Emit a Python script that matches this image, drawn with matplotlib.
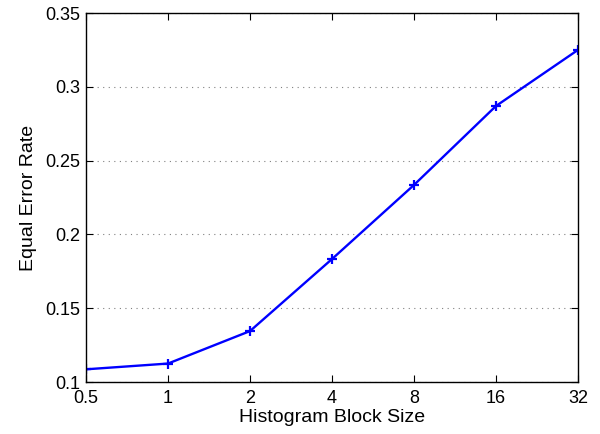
import matplotlib
matplotlib.use("Agg")
import matplotlib.pyplot as plt
from matplotlib.ticker import FixedLocator, FixedFormatter, NullLocator

plt.rcParams['font.family'] = ['Liberation Sans', 'DejaVu Sans']

block_size = [0.5, 1, 2, 4, 8, 16, 32]
eer = [0.1086, 0.1125, 0.1345, 0.1833, 0.2335, 0.287, 0.325]

x_tick_labels = ['0.5', '1', '2', '4', '8', '16', '32']
y_ticks = [0.1, 0.15, 0.2, 0.25, 0.3, 0.35]
y_tick_labels = ['0.1', '0.15', '0.2', '0.25', '0.3', '0.35']

fig = plt.figure(figsize=(6, 4.34), dpi=100)
ax = fig.add_axes([0.1433, 0.1198, 0.82, 0.8502])

ax.plot(block_size, eer, color='#0000ff', linewidth=1.7,
        marker='+', markersize=7, markeredgewidth=1.6)

ax.set_xscale('log', base=2)
ax.set_xlim(0.5, 32)
ax.set_ylim(0.1, 0.35)
ax.xaxis.set_major_locator(FixedLocator(block_size))
ax.xaxis.set_major_formatter(FixedFormatter(x_tick_labels))
ax.xaxis.set_minor_locator(NullLocator())
ax.set_yticks(y_ticks)
ax.set_yticklabels(y_tick_labels)

ax.tick_params(direction='in', top=True, right=True, labelsize=13,
               length=5, width=0.8, colors='black')
ax.tick_params(axis='x', pad=6)
ax.tick_params(axis='y', pad=4)
ax.yaxis.grid(True, linestyle=(0, (1, 4)), color='#808080', linewidth=0.8)
for s in ax.spines.values():
    s.set_linewidth(1.0)

ax.set_xlabel('Histogram Block Size', fontsize=14, labelpad=1)
ax.set_ylabel('Equal Error Rate', fontsize=14, labelpad=6)

fig.savefig('out.png', dpi=100)
